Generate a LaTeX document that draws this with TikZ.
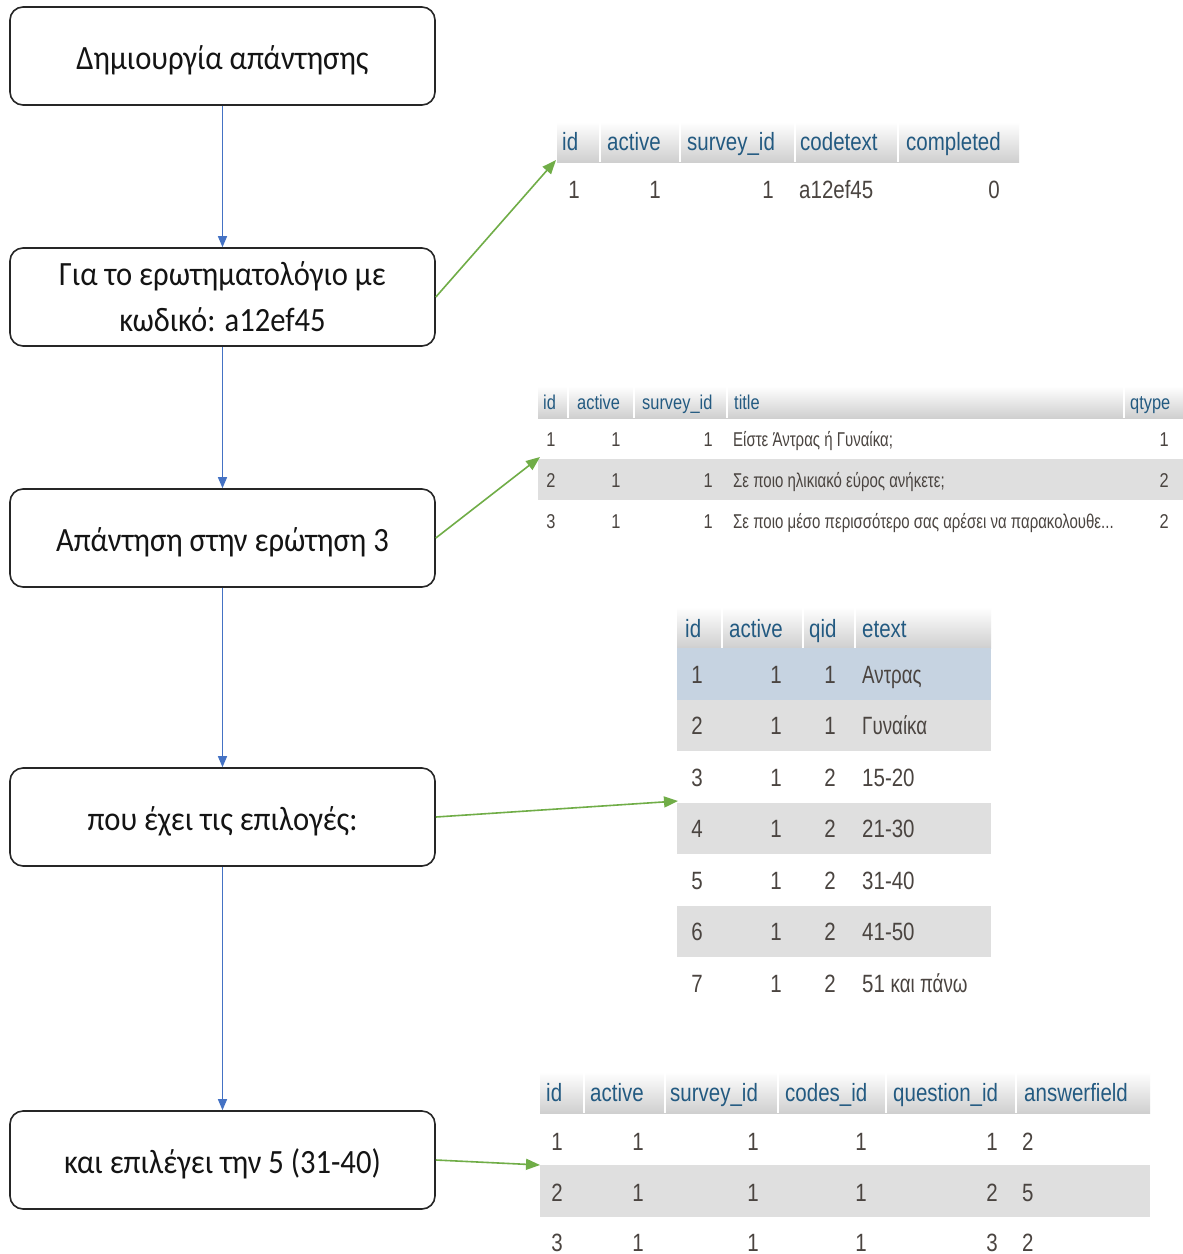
\documentclass[tikz,border=0pt]{standalone}
\usepackage{fontspec}
\setmainfont[FakeStretch=0.9]{Carlito}
\newfontfamily\tabfont[FakeStretch=0.82]{Liberation Sans}
\newfontfamily\grfont[FakeStretch=0.75]{Liberation Sans}
\usetikzlibrary{arrows.meta}
\definecolor{hdrtext}{HTML}{235A81}
\definecolor{dattext}{HTML}{4A4440}
\definecolor{rowgray}{HTML}{DFDFDF}
\definecolor{rowhl}{HTML}{C6D3E1}
\definecolor{hdrgray}{HTML}{CFCFCF}
\definecolor{boxline}{HTML}{262626}
\definecolor{flowblue}{HTML}{4472C4}
\definecolor{linkgreen}{HTML}{70AD47}
\tikzset{
  stepbox/.style={draw=boxline, line width=1.6pt, rounded corners=13pt, minimum width=425pt, minimum height=98pt, align=center, text=black!92, font=\fontsize{34}{46}\selectfont, inner sep=0pt},
  onebox/.style={stepbox, text height=31pt, text depth=4pt},
  flow/.style={draw=flowblue, line width=1.2pt, -{Triangle[length=11pt,width=9pt]}},
  link/.style={draw=linkgreen, line width=1.6pt, -{Triangle[length=14pt,width=11pt]}},
  hd/.style={inner sep=0pt, anchor=base west, text=hdrtext, font=\tabfont\fontsize{25}{28}\selectfont},
  hds/.style={hd, font=\tabfont\fontsize{20}{24}\selectfont},
  dw/.style={inner sep=0pt, anchor=base west, text=dattext, font=\tabfont\fontsize{25}{28}\selectfont},
  de/.style={dw, anchor=base east},
  dc/.style={dw, anchor=base},
  dws/.style={dw, font=\tabfont\fontsize{20}{24}\selectfont},
  des/.style={dws, anchor=base east},
  dcs/.style={dws, anchor=base},
  sep/.style={draw=white, line width=1.6pt}
}
\begin{document}
\begin{tikzpicture}[x=1pt,y=-1pt]
\useasboundingbox[fill=white] (0,0) rectangle (1183,1254);

% ---------------- left flow boxes
\node[onebox] (b1) at (222.5,56) {Δημιουργία απάντησης};
\node[stepbox] (b2) at (222.5,297) {Για το ερωτηματολόγιο με\\κωδικό: a12ef45};
\node[onebox] (b3) at (222.5,538) {Απάντηση στην ερώτηση 3};
\node[onebox] (b4) at (222.5,817) {που έχει τις επιλογές:};
\node[onebox] (b5) at (222.5,1160) {και επιλέγει την 5 (31-40)};

\draw[flow] (b1) -- (b2);
\draw[flow] (b2) -- (b3);
\draw[flow] (b3) -- (b4);
\draw[flow] (b4) -- (b5);

% ---------------- table 1 (codes)
\shade[top color=white, bottom color=hdrgray] (557,122) rectangle (1019,162);
\foreach \x in {600,680,795,898} \draw[sep] (\x,122) -- (\x,162);
\node[hd] (t1h1) at (562,150) {id};
\node[hd] (t1h2) at (607,150) {active};
\node[hd] (t1h3) at (687,150) {survey\_id};
\node[hd] (t1h4) at (800,150) {codetext};
\node[hd] (t1h5) at (906,150) {completed};
\node[dc] (t1d1) at (574,198) {1};
\node[dc] (t1d2) at (655,198) {1};
\node[de] (t1d3) at (774,198) {1};
\node[dw] (t1d4) at (799,198) {a12ef45};
\node[de] (t1d5) at (1000,198) {0};
\coordinate (t1) at (556,160);

% ---------------- table 2 (questions)
\shade[top color=white, bottom color=hdrgray] (538,386) rectangle (1183,418);
\fill[rowgray] (538,459) rectangle (1183,500);
\foreach \x in {568,634,727,1124} \draw[sep] (\x,386) -- (\x,418);
\node[hds] (t2h1) at (543,409) {id};
\node[hds] (t2h2) at (577,409) {active};
\node[hds] (t2h3) at (642,409) {survey\_id};
\node[hds] (t2h4) at (734,409) {title};
\node[hds] (t2h5) at (1130,409) {qtype};
\node[dcs] (t2r1a) at (551,446) {1};
\node[dcs] (t2r1b) at (616,446) {1};
\node[des] (t2r1c) at (713,446) {1};
\node[dws, font=\grfont\fontsize{20}{24}\selectfont] (t2r1d) at (733,446) {Είστε Άντρας ή Γυναίκα;};
\node[des] (t2r1e) at (1169,446) {1};
\node[dcs] (t2r2a) at (551,487) {2};
\node[dcs] (t2r2b) at (616,487) {1};
\node[des] (t2r2c) at (713,487) {1};
\node[dws, font=\grfont\fontsize{20}{24}\selectfont] (t2r2d) at (733,487) {Σε ποιο ηλικιακό εύρος ανήκετε;};
\node[des] (t2r2e) at (1169,487) {2};
\node[dcs] (t2r3a) at (551,528) {3};
\node[dcs] (t2r3b) at (616,528) {1};
\node[des] (t2r3c) at (713,528) {1};
\node[dws, font=\grfont\fontsize{20}{24}\selectfont] (t2r3d) at (733,528) {Σε ποιο μέσο περισσότερο σας αρέσει να παρακολουθε...};
\node[des] (t2r3e) at (1169,528) {2};
\coordinate (t2) at (540,457);

% ---------------- table 3 (choices)
\shade[top color=white, bottom color=hdrgray] (677,607) rectangle (991,648);
\fill[rowhl] (677,648) rectangle (991,699.5);
\fill[rowgray] (677,699.5) rectangle (991,751);
\fill[rowgray] (677,802.5) rectangle (991,854);
\fill[rowgray] (677,905.5) rectangle (991,957);
\foreach \x in {722,803,855} \draw[sep] (\x,607) -- (\x,648);
\node[hd] (t3h1) at (685,637) {id};
\node[hd] (t3h2) at (729,637) {active};
\node[hd] (t3h3) at (809,637) {qid};
\node[hd] (t3h4) at (862,637) {etext};
\foreach \q/\e [count=\i] in {1/{\grfont Αντρας}, 1/{\grfont Γυναίκα}, 2/15-20, 2/21-30, 2/31-40, 2/41-50, 2/{51 {\grfont και πάνω}}}{
  \pgfmathsetmacro\yb{648+51.5*(\i-1)+35}
  \node[dc] (t3r\i a) at (697,\yb) {\i};
  \node[de] (t3r\i b) at (782,\yb) {1};
  \node[de] (t3r\i c) at (836,\yb) {\q};
  \node[dw] (t3r\i d) at (862,\yb) {\e};
}
\coordinate (t3) at (678,801);

% ---------------- table 4 (answers)
\shade[top color=white, bottom color=hdrgray] (540,1072) rectangle (1150,1113);
\fill[rowgray] (540,1165) rectangle (1150,1217);
\foreach \x in {584,665,778,886,1016} \draw[sep] (\x,1072) -- (\x,1113);
\node[hd] (t4h1) at (546,1101) {id};
\node[hd] (t4h2) at (590,1101) {active};
\node[hd] (t4h3) at (670,1101) {survey\_id};
\node[hd] (t4h4) at (785,1101) {codes\_id};
\node[hd] (t4h5) at (893,1101) {question\_id};
\node[hd] (t4h6) at (1024,1101) {answerfield};
\foreach \qq/\af/\yb [count=\i] in {1/2/1150, 2/5/1201, 3/2/1251}{
  \node[dc] (t4r\i a) at (557,\yb) {\i};
  \node[dc] (t4r\i b) at (638,\yb) {1};
  \node[dc] (t4r\i c) at (753,\yb) {1};
  \node[dc] (t4r\i d) at (861,\yb) {1};
  \node[de] (t4r\i e) at (998,\yb) {\qq};
  \node[dw] (t4r\i f) at (1022,\yb) {\af};
}
\coordinate (t4) at (540,1165);

% ---------------- links
\draw[link] (b2.east) -- (t1);
\draw[link] (b3.east) -- (t2);
\draw[link] (b4.east) -- (t3);
\draw[link] (b5.east) -- (t4);
\end{tikzpicture}
\end{document}
